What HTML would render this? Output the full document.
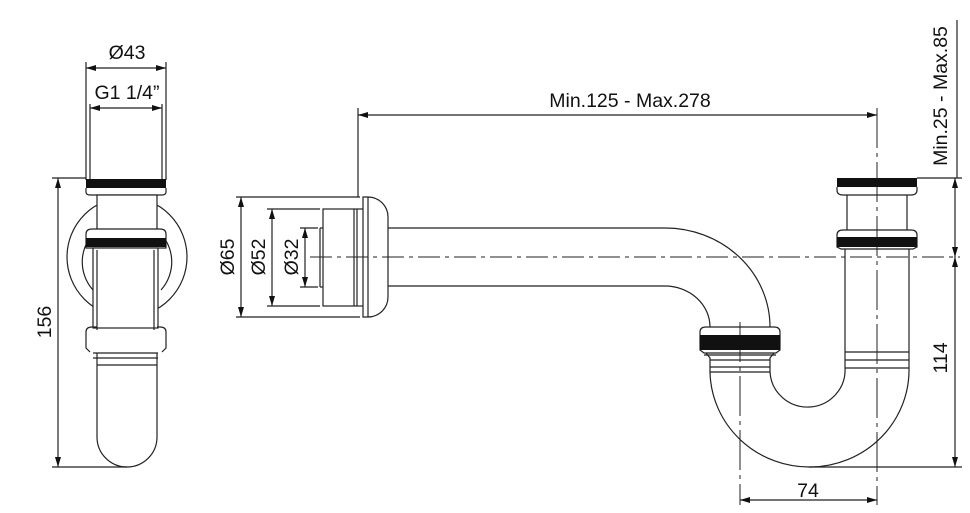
<!DOCTYPE html><html><head><style>html,body{margin:0;padding:0;background:#fff}svg{display:block}text{font-family:"Liberation Sans",sans-serif;font-size:19.5px;fill:#111}</style></head><body>
<svg width="970" height="513" viewBox="0 0 970 513" xmlns="http://www.w3.org/2000/svg">
<defs><marker id="a" markerWidth="10" markerHeight="6" refX="10" refY="3" orient="auto-start-reverse" markerUnits="userSpaceOnUse"><path d="M0,0L10,3L0,6z" fill="#111"/></marker></defs>
<g fill="none" stroke="#222" stroke-width="1.2">
<line x1="86" y1="62" x2="86" y2="180"/><line x1="166" y1="62" x2="166" y2="180"/>
<line x1="90" y1="104" x2="90" y2="180"/><line x1="162" y1="104" x2="162" y2="180"/>
<line x1="86" y1="68" x2="166" y2="68" marker-start="url(#a)" marker-end="url(#a)"/>
<line x1="90" y1="108" x2="162" y2="108" marker-start="url(#a)" marker-end="url(#a)"/>
<path d="M86,188 L86,192 Q86,195 90,195 L162,195 Q166,195 166,192 L166,188"/>
<circle cx="127" cy="257" r="60"/>
<path d="M97,230 A42,42 0 0,0 93,290"/><path d="M157,230 A42,42 0 0,1 161,290"/>
<rect x="97" y="195" width="60" height="35" fill="#fff"/>
<path d="M86,248 L86,234 Q86,229 92,229 L160,229 Q166,229 166,234 L166,248Z" fill="#fff"/>
<rect x="93" y="248" width="65" height="80" fill="#fff"/>
<line x1="97" y1="250" x2="97" y2="330"/><line x1="154" y1="250" x2="154" y2="330"/>
<path d="M90,352 L86,348 L86,332 Q86,327 92,327 L97,327"/><path d="M162,352 L166,348 L166,332 Q166,327 160,327 L157,327"/>
<line x1="93" y1="353" x2="158" y2="353"/><line x1="93" y1="358" x2="158" y2="358"/><line x1="97" y1="365" x2="157" y2="365"/>
<path d="M97,353 L97,437 A30,30 0 0,0 157,437 L157,353"/>
<line x1="52" y1="178" x2="86" y2="178"/><line x1="52" y1="467" x2="127" y2="467"/>
<line x1="58" y1="178" x2="58" y2="467" marker-start="url(#a)" marker-end="url(#a)"/>
<line x1="358" y1="108" x2="358" y2="197"/>
<line x1="358" y1="115" x2="877" y2="115" marker-start="url(#a)" marker-end="url(#a)"/>
<path d="M363,197 L368,197 A20,20 0 0,1 388,217 L388,297 A20,20 0 0,1 368,317 L363,317Z"/>
<line x1="368" y1="197" x2="368" y2="317"/>
<rect x="323" y="209" width="31" height="97"/>
<line x1="357" y1="209" x2="357" y2="306"/><line x1="354" y1="209" x2="363" y2="209"/><line x1="354" y1="306" x2="363" y2="306"/>
<line x1="320" y1="228" x2="320" y2="287"/><line x1="320" y1="228" x2="323" y2="228"/><line x1="320" y1="287" x2="323" y2="287"/>
<line x1="236" y1="197" x2="360" y2="197"/><line x1="236" y1="317" x2="360" y2="317"/>
<line x1="267" y1="209" x2="320" y2="209"/><line x1="267" y1="306" x2="320" y2="306"/>
<line x1="300" y1="228" x2="318" y2="228"/><line x1="300" y1="287" x2="318" y2="287"/>
<line x1="241" y1="197" x2="241" y2="317" marker-start="url(#a)" marker-end="url(#a)"/>
<line x1="272" y1="209" x2="272" y2="306" marker-start="url(#a)" marker-end="url(#a)"/>
<line x1="305" y1="228" x2="305" y2="287" marker-start="url(#a)" marker-end="url(#a)"/>
<path d="M388,228 L665,228 A105,99 0 0,1 770,327"/>
<path d="M388,286 L665,286 A45,41 0 0,1 710,327"/>
<line x1="310" y1="257" x2="960" y2="257" stroke-dasharray="22,5,4,5" stroke-width="1"/>
<path d="M700,350 L700,332 Q700,327 706,327 L774,327 Q780,327 780,332 L780,350 L776,353 L704,353Z" fill="#fff"/>
<line x1="704" y1="355" x2="776" y2="355"/>
<path d="M706,353 L710,358 L710,373 M774,353 L770,358 L770,373"/>
<line x1="710" y1="360" x2="770" y2="360"/><line x1="710" y1="367" x2="770" y2="367"/><line x1="710" y1="372" x2="770" y2="372"/>
<path d="M710,372 A99.5,97 0 0,0 909,368"/>
<path d="M770,372 A37.5,37 0 0,0 845,368"/>
<path d="M837,187 L837,190 Q837,195 843,195 L911,195 Q917,195 917,190 L917,187"/>
<line x1="847" y1="195" x2="847" y2="230"/><line x1="907" y1="195" x2="907" y2="230"/>
<path d="M837,247 L837,235 Q837,230 843,230 L911,230 Q917,230 917,235 L917,247 L913,249 L841,249Z"/>
<line x1="845" y1="249" x2="845" y2="368"/><line x1="909" y1="249" x2="909" y2="368"/>
<line x1="845" y1="352" x2="909" y2="352"/><line x1="845" y1="360" x2="909" y2="360"/><line x1="845" y1="368" x2="909" y2="368"/>
<line x1="740" y1="322" x2="740" y2="505" stroke-dasharray="40,5,4,5" stroke-width="1"/>
<line x1="877" y1="108" x2="877" y2="505" stroke-dasharray="40,5,4,5" stroke-width="1"/>
<line x1="740" y1="500" x2="877" y2="500" marker-start="url(#a)" marker-end="url(#a)"/>
<line x1="917" y1="178" x2="962" y2="178"/><line x1="957" y1="20" x2="957" y2="178"/>
<line x1="809" y1="467" x2="962" y2="467"/>
<line x1="955" y1="178" x2="955" y2="257" marker-start="url(#a)" marker-end="url(#a)"/>
<line x1="955" y1="257" x2="955" y2="467" marker-start="url(#a)" marker-end="url(#a)"/>
</g>
<g fill="#111">
<rect x="86" y="179" width="80" height="9"/><rect x="86" y="238" width="80" height="9"/>
<rect x="700" y="335" width="80" height="15"/>
<rect x="837" y="178" width="80" height="9"/><rect x="837" y="237" width="80" height="10"/>
</g>
<text x="127" y="59" text-anchor="middle">Ø43</text>
<text x="127" y="99" text-anchor="middle">G1 1/4”</text>
<text transform="translate(51,322) rotate(-90)" text-anchor="middle">156</text>
<text transform="translate(234,257) rotate(-90)" text-anchor="middle">Ø65</text>
<text transform="translate(265,257) rotate(-90)" text-anchor="middle">Ø52</text>
<text transform="translate(298,257) rotate(-90)" text-anchor="middle">Ø32</text>
<text x="630" y="107" text-anchor="middle">Min.125 - Max.278</text>
<text transform="translate(947,96) rotate(-90)" text-anchor="middle">Min.25 - Max.85</text>
<text transform="translate(947,358) rotate(-90)" text-anchor="middle">114</text>
<text x="808" y="497" text-anchor="middle">74</text>
</svg></body></html>
